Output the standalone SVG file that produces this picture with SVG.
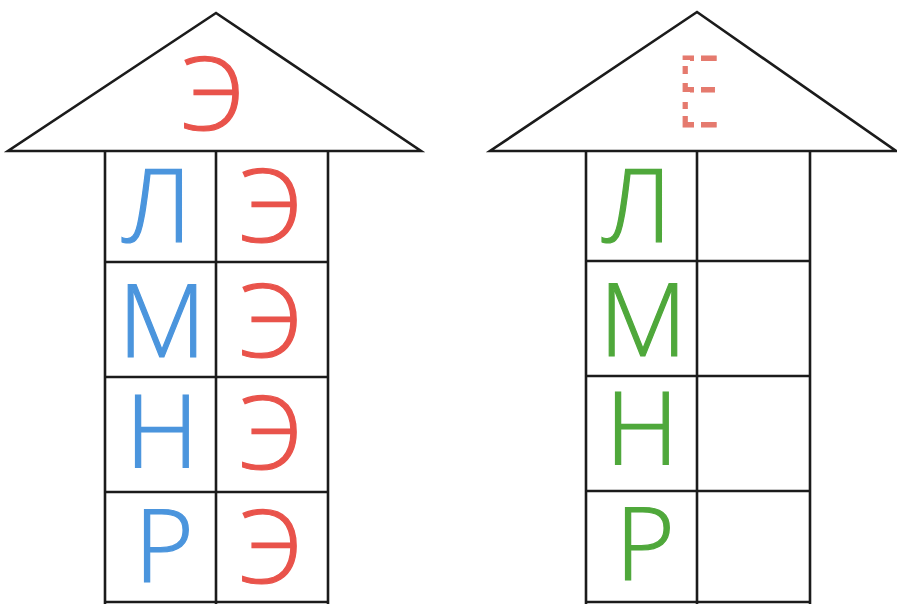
<svg xmlns="http://www.w3.org/2000/svg" width="897" height="604" viewBox="0 0 897 604">
<style>
.ln{fill:none;stroke:#1b1b1b;stroke-width:2.6;stroke-linejoin:miter}
.roof{fill:#fff;stroke:#1b1b1b;stroke-width:2.6;stroke-linejoin:miter}
.t{font-family:"Open Sans","Noto Sans","DejaVu Sans",sans-serif;font-size:102px;font-weight:300;text-anchor:middle;stroke-width:1.2}
.b{fill:#4b95dd;stroke:#4b95dd}
.r{fill:#e9534b;stroke:#e9534b}
.g{fill:#4fa83b;stroke:#4fa83b}
</style>
<defs>
<mask id="dash" maskUnits="userSpaceOnUse" x="650" y="40" width="100" height="100">
<rect x="650" y="40" width="100" height="100" fill="#fff"/>
<rect x="670" y="60" width="20" height="6" fill="#000"/>
<rect x="670" y="74" width="20" height="9" fill="#000"/>
<rect x="670" y="92" width="20" height="10" fill="#000"/>
<rect x="670" y="109" width="20" height="7" fill="#000"/>
<rect x="694" y="50" width="7" height="85" fill="#000"/>
</mask>
</defs>
<rect width="897" height="604" fill="#fff"/>
<g id="house-left">
<polygon class="roof" points="216,13 8,151 421,151"/>
<text class="t r" x="213" y="130">Э</text>
<g id="left-grid">
<path class="ln" d="M105,151V604M216,151V604M328,151V604M105,262H328M105,377H328M105,492H328M105,602H328"/>
</g>
<g id="left-r1"><text class="t b" x="157" y="242">Л</text><text class="t r" x="271" y="242">Э</text></g>
<g id="left-r2"><text class="t b" x="162" y="357">М</text><text class="t r" x="271" y="357">Э</text></g>
<g id="left-r3"><text class="t b" x="162" y="468">Н</text><text class="t r" x="271" y="469">Э</text></g>
<g id="left-r4"><text class="t b" x="164" y="582">Р</text><text class="t r" x="271" y="583">Э</text></g>
</g>
<g id="house-right">
<polygon class="roof" points="697,12 490,151 896,151"/>
<g mask="url(#dash)">
<text x="698" y="127" font-family="Open Sans, Noto Sans, sans-serif" font-size="100" font-weight="300" fill="#e57a6e" stroke="#e57a6e" stroke-width="1" text-anchor="middle" transform="translate(698,0) scale(0.85,1) translate(-698,0)">Е</text>
</g>
<g id="right-grid">
<path class="ln" d="M586,151V604M697,151V604M810,151V604M586,261H810M586,376H810M586,491H810M586,602H810"/>
</g>
<g id="right-r1"><text class="t g" x="637" y="242">Л</text></g>
<g id="right-r2"><text class="t g" x="643" y="356">М</text></g>
<g id="right-r3"><text class="t g" x="642" y="465">Н</text></g>
<g id="right-r4"><text class="t g" x="645" y="580">Р</text></g>
</g>
</svg>
